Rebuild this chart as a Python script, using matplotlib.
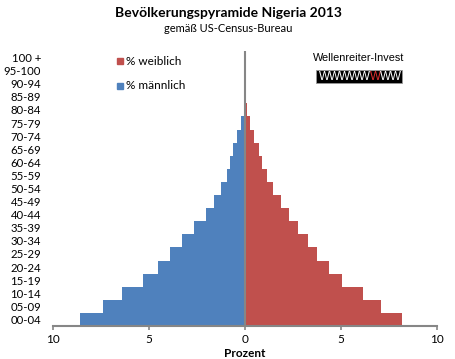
import matplotlib
matplotlib.use("Agg")
import matplotlib.pyplot as plt
from matplotlib.patches import Rectangle
from matplotlib.ticker import FuncFormatter
import numpy as np

plt.rcParams['font.family'] = ['Lato', 'DejaVu Sans']

ages = ['00-04', '05-09', '10-14', '15-19', '20-24', '25-29', '30-34', '35-39',
        '40-44', '45-49', '50-54', '55-59', '60-64', '65-69', '70-74', '75-79',
        '80-84', '85-89', '90-94', '95-100', '100 +']
male = [8.59, 7.40, 6.41, 5.30, 4.51, 3.89, 3.26, 2.66, 2.01, 1.60, 1.25,
        0.94, 0.78, 0.62, 0.42, 0.21, 0.04, 0.01, 0.0, 0.0, 0.0]
female = [8.18, 7.08, 6.15, 5.03, 4.38, 3.75, 3.28, 2.74, 2.29, 1.88, 1.46,
          1.13, 0.87, 0.71, 0.45, 0.24, 0.10, 0.02, 0.0, 0.0, 0.0]
xticks = [-10, -5, 0, 5, 10]

W, H = 455, 359
fig = plt.figure(figsize=(W / 100, H / 100), dpi=100)
ax = fig.add_axes([53 / W, (H - 326) / H, 384 / W, 275 / H])

y = np.arange(len(ages))
blue = '#4F81BD'
red = '#C0504D'
grey = '#868686'
ax.barh(y, [-m for m in male], height=1.0, color=blue, linewidth=0)
ax.barh(y, female, height=1.0, color=red, linewidth=0)
ax.axvline(0, color=grey, lw=1.5, zorder=5)

ax.set_xlim(-10, 10)
ax.set_ylim(-0.5, len(ages) - 0.5)
ax.set_yticks(y)
ax.set_yticklabels(ages, fontsize=8.2)
ax.tick_params(axis='y', length=0, pad=8.5)
ax.set_xticks(xticks)
ax.xaxis.set_major_formatter(FuncFormatter(lambda v, p: f"{abs(v):g}"))
ax.tick_params(axis='x', length=3, width=1.2, color=grey, labelsize=8.5, pad=3)
for s in ['top', 'right', 'left']:
    ax.spines[s].set_visible(False)
ax.spines['bottom'].set_color(grey)
ax.spines['bottom'].set_linewidth(1.5)
ax.set_xlabel('Prozent', fontsize=8.5, fontweight='bold', labelpad=2)

# title
fig.text(228 / W, 1 - 13 / H, 'Bevölkerungspyramide Nigeria 2013', ha='center', va='center',
         fontsize=10, fontweight='bold')
fig.text(228 / W, 1 - 28 / H, 'gemäß US-Census-Bureau', ha='center', va='center', fontsize=8)

# legend
for lbl, col, yc in [('% weiblich', red, 61.3), ('% männlich', blue, 85.7)]:
    fig.patches.append(Rectangle((117 / W, 1 - (yc + 3) / H), 6 / W, 6 / H,
                                 transform=fig.transFigure, color=col))
    fig.text(126 / W, 1 - yc / H, lbl, ha='left', va='center', fontsize=8.5)

# logo
fig.text(359 / W, 1 - 58 / H, 'Wellenreiter-Invest', ha='center', va='center', fontsize=7.8,
         family=['Liberation Sans'])
fig.patches.append(Rectangle((316 / W, 1 - 83 / H), 86 / W, 12.5 / H, transform=fig.transFigure,
                             facecolor='black', edgecolor='#999999', lw=0.6))
letters = ['W'] * 8
lcolors = ['white'] * 5 + ['#E03030'] + ['white'] * 2
for i, (ch, c) in enumerate(zip(letters, lcolors)):
    fig.text((319.5 + 10.1 * (i + 0.5)) / W, 1 - 77 / H, ch, ha='center', va='center',
             fontsize=8.4, color=c, family=['Liberation Sans'])

fig.savefig('out.png', dpi=100)
